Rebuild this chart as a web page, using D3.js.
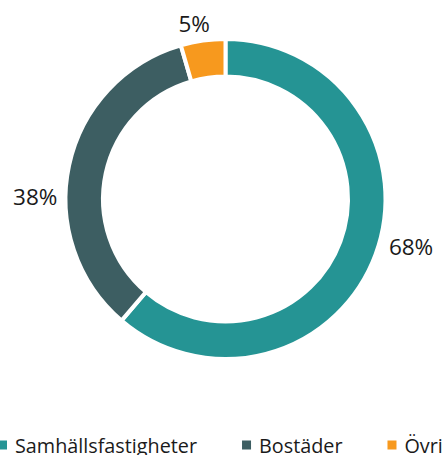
<!DOCTYPE html>
<html>
<head>
<meta charset="utf-8">
<script src="https://cdn.jsdelivr.net/npm/d3@7"></script>
<style>
  body { margin: 0; background: #fff; overflow: hidden; }
  svg { display: block; font-family: "Open Sans", "Noto Sans", sans-serif; }
</style>
</head>
<body>
<div id="wrapper"></div>
<script>
// data
const categories = ["Samhällsfastigheter", "Bostäder", "Övrigt"];
const values = [68, 38, 5];
const labels = ["68%", "38%", "5%"];
const colors = ["#259494", "#3d5e62", "#f7991e"];

function drawDonut() {
    const width = 442
    const height = 455
    const cx = 225.5
    const cy = 199
    const outerR = 160
    const innerR = 122.5

    const svg = d3.select("#wrapper")
        .html("")
        .append("svg")
        .attr("width", width)
        .attr("height", height);

    const pie = d3.pie()
        .sort(null)
        .value(d => d.value);

    const rows = categories.map((c, i) => ({ name: c, value: values[i], label: labels[i], color: colors[i] }));
    const arcs = pie(rows);

    const arc = d3.arc()
        .innerRadius(innerR)
        .outerRadius(outerR);

    const ring = svg.append("g")
        .attr("transform", `translate(${cx},${cy})`);

    ring.selectAll("path")
        .data(arcs)
        .enter()
        .append("path")
        .attr("d", arc)
        .attr("fill", d => d.data.color)
        .attr("stroke", "#fff")
        .attr("stroke-width", 4)
        .attr("stroke-linejoin", "miter");

    // labels sit outside the ring, nudged a bit counter-clockwise like the original
    const angleShift = [-6, -11.5, -2].map(a => a * Math.PI / 180);
    const fontSize = 22.5;
    const lbl = ring.selectAll("text.lbl")
        .data(arcs)
        .enter()
        .append("text")
        .attr("class", "lbl")
        .attr("text-anchor", "middle")
        .attr("dominant-baseline", "central")
        .attr("font-size", fontSize + "px")
        .attr("fill", "#1a1a1a")
        .text(d => d.data.label);

    lbl.each(function (d, i) {
        const w = this.getComputedTextLength();
        const a = (d.startAngle + d.endAngle) / 2 + angleShift[i];
        const s = Math.sin(a), c = Math.cos(a);
        const r = outerR + 8 + Math.abs(s) * w / 2 + Math.abs(c) * fontSize * 0.36;
        d3.select(this)
            .attr("x", s * r)
            .attr("y", -c * r);
    });

    // legend
    const legend = svg.append("g")
        .attr("transform", `translate(0, 445)`);
    let x = -2;
    rows.forEach(d => {
        legend.append("rect")
            .attr("x", x)
            .attr("y", -4.5)
            .attr("width", 9)
            .attr("height", 9)
            .attr("fill", d.color);
        const t = legend.append("text")
            .attr("x", x + 17)
            .attr("y", 0)
            .attr("dominant-baseline", "central")
            .attr("font-size", "19.8px")
            .attr("fill", "#1a1a1a")
            .text(d.name);
        x = x + 17 + t.node().getComputedTextLength() + 45;
    });
}

drawDonut();
</script>
</body>
</html>
